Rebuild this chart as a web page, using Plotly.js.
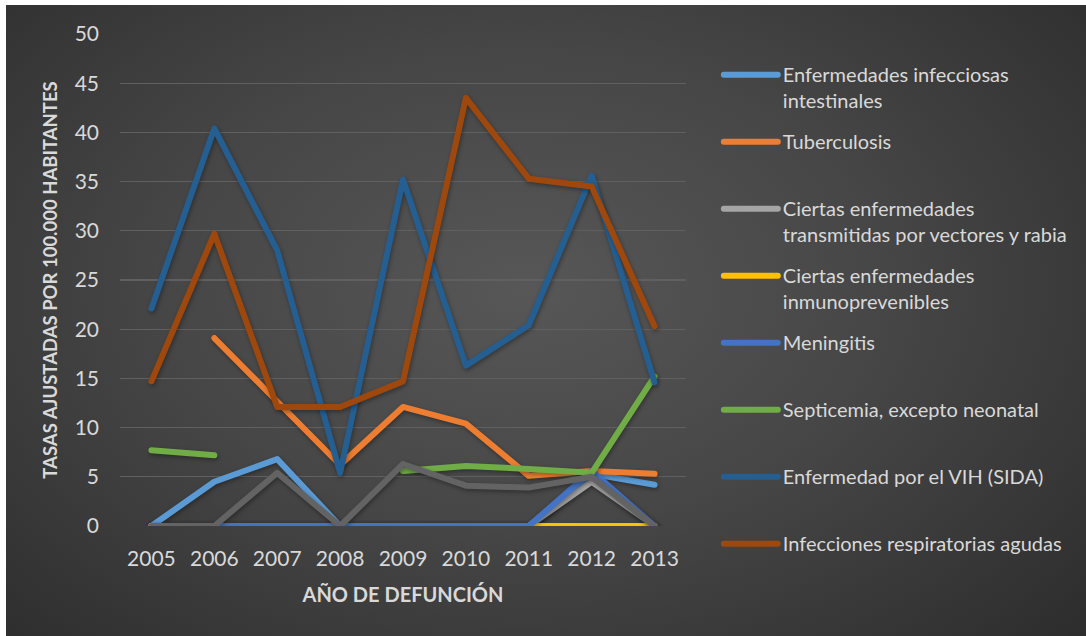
<!DOCTYPE html>
<html>
<head>
<meta charset="utf-8">
<script src="https://cdn.plot.ly/plotly-3.0.1.min.js"></script>
<style>
  html, body { margin: 0; padding: 0; background: #ffffff; }
  #frame {
    position: absolute; left: 6px; top: 5px; width: 1080px; height: 631px;
    background: radial-gradient(ellipse 75% 85% at 48% 45%, #575757 0%, #464646 45%, #2a2a2a 100%);
  }
  #chart { position: absolute; left: 0; top: 0; width: 1086px; height: 636px; }
  .js-line { stroke-linecap: round; stroke-linejoin: round; }
  .scatterlayer .trace { filter: drop-shadow(1px 2px 2px rgba(0,0,0,0.35)); }
</style>
</head>
<body>
<div id="frame"></div>
<div id="chart"></div>
<script>
// --- Data ---
const years = ['2005', '2006', '2007', '2008', '2009', '2010', '2011', '2012', '2013'];

const intestinales   = [0, 4.5, 6.8, 0, 0, 0, 0, 5.3, 4.2];
const tuberculosis   = [null, 19.1, 12.6, 6.2, 12.1, 10.4, 5.1, 5.6, 5.3];
const vectores       = [0, 0, 0, 0, 0, 0, 0, 4.5, 0];
const inmuno         = [0, 0, 0, 0, 0, 0, 0, 0, 0];
const meningitis     = [null, 0, 0, 0, 0, 0, 0, 5.6, 0];
const septicemia     = [7.7, 7.2, null, null, 5.6, 6.1, 5.8, 5.4, 15.2];
const vih            = [22.1, 40.4, 28.0, 5.4, 35.2, 16.3, 20.4, 35.6, 14.6];
const respiratorias  = [14.7, 29.7, 12.1, 12.1, 14.7, 43.5, 35.3, 34.5, 20.3];
const otras          = [0, 0, 5.4, 0, 6.3, 4.1, 3.9, 5.0, 0];

const seriesNames = [
    'Enfermedades infecciosas<br>intestinales',
    'Tuberculosis<br>\u00a0',
    'Ciertas enfermedades<br>transmitidas por vectores y rabia',
    'Ciertas enfermedades<br>inmunoprevenibles',
    'Meningitis<br>\u00a0',
    'Septicemia, excepto neonatal<br>\u00a0',
    'Enfermedad por el VIH (SIDA)<br>\u00a0',
    'Infecciones respiratorias agudas',
    ''
];
const seriesValues = [intestinales, tuberculosis, vectores, inmuno, meningitis, septicemia, vih, respiratorias, otras];
const seriesColors = ['#5B9BD5', '#ED7D31', '#A5A5A5', '#FFC000', '#4472C4', '#70AD47', '#255E91', '#9E480E', '#636363'];

// --- Traces ---
const traces = seriesValues.map((vals, i) => ({
    x: years,
    y: vals,
    name: seriesNames[i],
    type: 'scatter',
    mode: 'lines',
    legendgroup: 'g' + i,
    showlegend: i < 8,
    cliponaxis: false,
    line: { color: seriesColors[i], width: 6 },
    hoverinfo: 'x+y'
}));

const fontFamily = 'Lato, "Open Sans", sans-serif';

const layout = {
    width: 1086,
    height: 636,
    paper_bgcolor: 'rgba(0,0,0,0)',
    plot_bgcolor: 'rgba(0,0,0,0)',
    margin: { l: 120, r: 400, t: 34, b: 110 },
    font: { family: fontFamily, color: '#d9d9d9' },
    showlegend: true,
    xaxis: {
        type: 'category',
        range: [-0.5, 8.5],
        showgrid: false,
        zeroline: false,
        showline: false,
        ticks: '',
        ticklabelstandoff: 18,
        tickfont: { size: 21, color: '#d9d9d9' },
        title: { text: '<b>AÑO DE DEFUNCIÓN</b>', font: { size: 20, color: '#d9d9d9' }, standoff: 18 }
    },
    yaxis: {
        range: [0, 50],
        dtick: 5,
        showgrid: true,
        gridcolor: '#606060',
        gridwidth: 1.2,
        zeroline: false,
        showline: false,
        ticks: '',
        ticklabelstandoff: 20,
        tickfont: { size: 21, color: '#d9d9d9' },
        title: { text: '<b>TASAS AJUSTADAS POR 100.000 HABITANTES</b>', font: { size: 18.5, color: '#d9d9d9' }, standoff: 12 }
    },
    legend: {
        x: 1.058,
        xanchor: 'left',
        y: 0.957,
        yanchor: 'top',
        valign: 'top',
        itemwidth: 54,
        tracegroupgap: 12,
        maxheight: 600,
        bgcolor: 'rgba(0,0,0,0)',
        font: { size: 20, color: '#d9d9d9', family: fontFamily }
    }
};

Plotly.newPlot('chart', traces, layout, { displayModeBar: false, staticPlot: true });
</script>
</body>
</html>
